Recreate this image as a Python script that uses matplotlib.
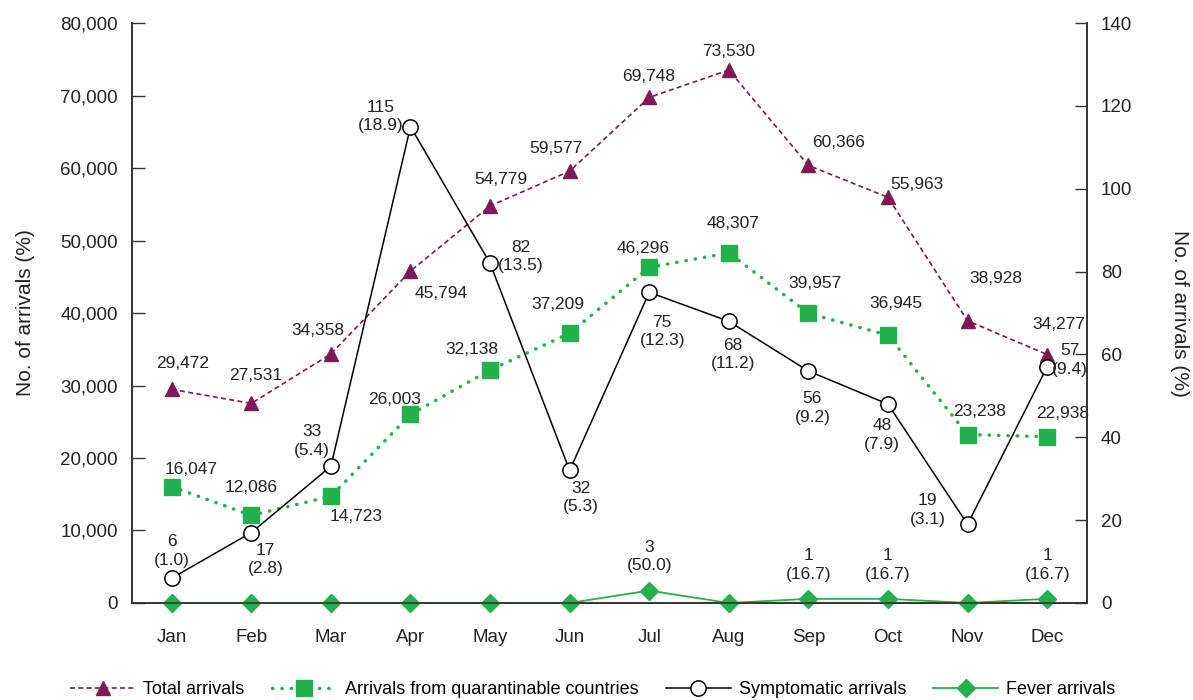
import matplotlib
matplotlib.use('Agg')
import matplotlib.pyplot as plt

plt.rcParams['font.family'] = ['Liberation Sans', 'DejaVu Sans']

months = ['Jan', 'Feb', 'Mar', 'Apr', 'May', 'Jun', 'Jul', 'Aug', 'Sep', 'Oct', 'Nov', 'Dec']
total = [29472, 27531, 34358, 45794, 54779, 59577, 69748, 73530, 60366, 55963, 38928, 34277]
quarant = [16047, 12086, 14723, 26003, 32138, 37209, 46296, 48307, 39957, 36945, 23238, 22938]
sympt = [6, 17, 33, 115, 82, 32, 75, 68, 56, 48, 19, 57]
sympt_pct = [1.0, 2.8, 5.4, 18.9, 13.5, 5.3, 12.3, 11.2, 9.2, 7.9, 3.1, 9.4]
fever = [0, 0, 0, 0, 0, 0, 3, 0, 1, 1, 0, 1]
fever_pct = [None, None, None, None, None, None, 50.0, None, 16.7, 16.7, None, 16.7]

# label offsets in pixels (dx, dy)
off_total = [(11, 26), (4, 28), (-13, 23), (31, -22), (11, 26), (-14, 23),
             (-1, 21), (0, 18), (30, 23), (29, 13), (28, 42), (12, 30)]
off_quar = [(19, 17), (0, 28), (25, -20), (-16, 15), (-18, 21), (-12, 29),
            (-6, 19), (4, 29), (7, 30), (8, 32), (12, 23), (15, 23)]
off_sym = [(0, 27), (14, -27), (-19, 25), (-30, 10), (31, 7), (11, -27),
           (13, -39), (4, -33), (4, -37), (-6, -31), (-40, 14), (23, 7)]
off_fev = (0, 34)

maroon = '#7d1a55'
green = '#22b14c'

x = list(range(len(months)))

fig = plt.figure(figsize=(11.93, 7), dpi=100)
ax = fig.add_axes([0.1106, 0.1386, 0.8005, 0.8284])
ax2 = ax.twinx()

l1, = ax.plot(x, total, color=maroon, lw=1.2, linestyle=(0, (3, 2)),
              marker='^', ms=10, label='Total arrivals')
l2, = ax.plot(x, quarant, color=green, lw=2.5, linestyle=(0, (0.1, 2.6)),
              dash_capstyle='round', marker='s', ms=11, label='Arrivals from quarantinable countries')
l3, = ax2.plot(x, sympt, color='black', lw=1.1, marker='o', ms=11,
               mfc='white', mec='black', mew=1.1, label='Symptomatic arrivals')
l4, = ax2.plot(x, fever, color=green, lw=1.3, marker='D', ms=9, label='Fever arrivals', clip_on=False)

fs = 12.5
for i in x:
    ax.annotate(f'{total[i]:,}', (i, total[i]), xytext=off_total[i], textcoords='offset pixels',
                ha='center', va='center', fontsize=fs, color='#222222')
    ax.annotate(f'{quarant[i]:,}', (i, quarant[i]), xytext=off_quar[i], textcoords='offset pixels',
                ha='center', va='center', fontsize=fs, color='#222222')
    ax2.annotate(f'{sympt[i]}\n({sympt_pct[i]:.1f})', (i, sympt[i]), xytext=off_sym[i],
                 textcoords='offset pixels', ha='center', va='center', fontsize=fs,
                 color='#222222', linespacing=1.3)
    if fever_pct[i] is not None:
        ax2.annotate(f'{fever[i]}\n({fever_pct[i]:.1f})', (i, fever[i]), xytext=off_fev,
                     textcoords='offset pixels', ha='center', va='center', fontsize=fs,
                     color='#222222', linespacing=1.3)

ax.set_xlim(-0.5, 11.5)
ax.set_ylim(0, 80000)
ax2.set_ylim(0, 140)
ax.set_yticks(range(0, 80001, 10000))
ax.set_yticklabels([f'{v:,}' for v in range(0, 80001, 10000)])
ax2.set_yticks(range(0, 141, 20))
ax.set_xticks(x)
ax.set_xticklabels(months)

for a in (ax, ax2):
    a.spines['top'].set_visible(False)
    for s in ('left', 'right', 'bottom'):
        a.spines[s].set_color('#333333')
        a.spines[s].set_linewidth(1.2)
    a.tick_params(axis='y', direction='in', length=9, width=1, colors='#333333',
                  labelsize=13.5, labelcolor='#222222', pad=10)
ax.tick_params(axis='x', length=0, labelsize=13.5, labelcolor='#222222', pad=19)

ax.set_ylabel('No. of arrivals (%)', fontsize=15, color='#222222', labelpad=18)
ax2.set_ylabel('No. of arrivals (%)', fontsize=15, color='#222222', rotation=270, labelpad=41)

fig.legend(handles=[l1, l2, l3, l4], loc='center', bbox_to_anchor=(0.497, 0.015), ncol=4,
           frameon=False, fontsize=13, handlelength=3.6, columnspacing=1.5, handletextpad=0.45)

fig.savefig('out.png', dpi=100)
